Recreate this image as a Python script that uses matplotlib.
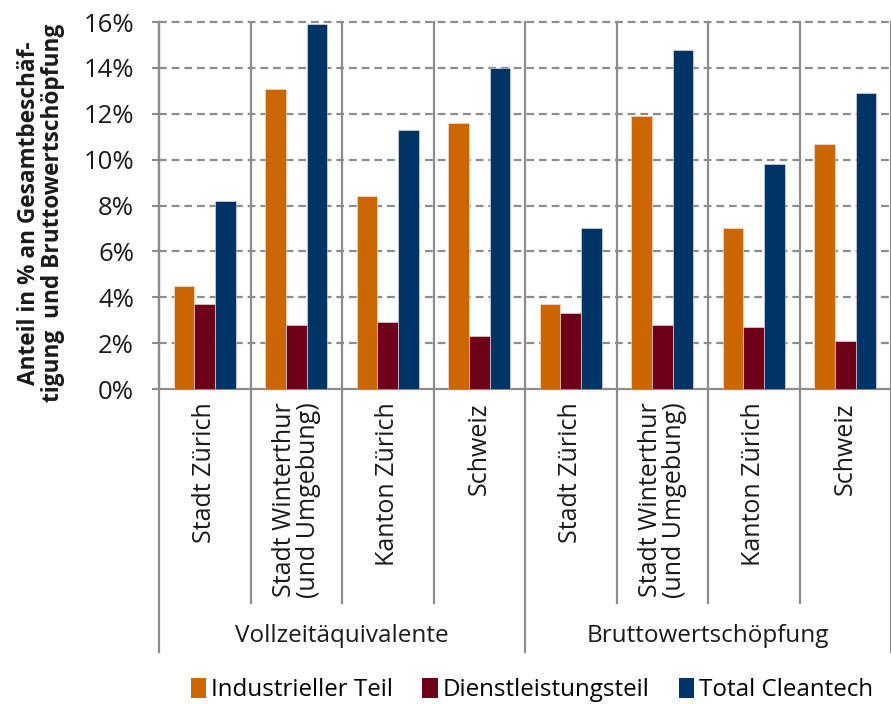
import matplotlib
matplotlib.use("Agg")
import matplotlib.pyplot as plt
from matplotlib.patches import Patch
from matplotlib.lines import Line2D
import matplotlib.transforms as mtransforms
import numpy as np

# Data (share in % of total employment / gross value added)
regions = ["Stadt Zürich", "Stadt Winterthur\n(und Umgebung)", "Kanton Zürich", "Schweiz",
           "Stadt Zürich", "Stadt Winterthur\n(und Umgebung)", "Kanton Zürich", "Schweiz"]
measures = ["Vollzeitäquivalente", "Bruttowertschöpfung"]
series_names = ["Industrieller Teil", "Dienstleistungsteil", "Total Cleantech"]
industriell = [4.5, 13.1, 8.4, 11.6, 3.7, 11.9, 7.0, 10.7]
dienstleistung = [3.7, 2.8, 2.9, 2.3, 3.3, 2.8, 2.7, 2.1]
total = [8.2, 15.9, 11.3, 14.0, 7.0, 14.8, 9.8, 12.9]
y_ticks = [0, 2, 4, 6, 8, 10, 12, 14, 16]

colors = ["#CC6600", "#6E0019", "#003366"]
grid_gray = "#8C8C8C"
text_color = "#1a1a1a"

main_font = ["Open Sans", "DejaVu Sans"]
plt.rcParams["font.family"] = main_font

W, H = 891, 704
fig = plt.figure(figsize=(W / 100, H / 100), dpi=100)
ax = fig.add_axes([159 / W, 1 - 389 / H, (891 - 159) / W, (389 - 22) / H])

x = np.arange(len(regions))
bw = 0.225
for i, (vals, name) in enumerate(zip([industriell, dienstleistung, total], series_names)):
    ax.bar(x + (i - 1) * bw, vals, width=bw, color=colors[i], label=name,
           edgecolor="#f3e6dc", linewidth=0.4, zorder=3)

ax.set_xlim(-0.5, len(regions) - 0.5)
ax.set_ylim(0, 16)
ax.set_yticks(y_ticks)
ax.set_yticklabels([f"{v}%" for v in y_ticks], fontsize=18.5, color=text_color)
ax.tick_params(axis="y", length=5, width=1.5, color=grid_gray, pad=13)
ax.set_xticks([])

# dashed horizontal grid
for v in y_ticks[1:]:
    ax.axhline(v, color=grid_gray, linewidth=1.6, linestyle=(0, (3.5, 2.2)), zorder=1,
               clip_on=False)

for side in ["top", "right"]:
    ax.spines[side].set_visible(False)
ax.spines["left"].set_color(grid_gray)
ax.spines["left"].set_linewidth(1.6)
ax.spines["bottom"].set_color(grid_gray)
ax.spines["bottom"].set_linewidth(1.6)

# vertical separators between categories, extending into the label area
trans = mtransforms.blended_transform_factory(ax.transData, ax.transAxes)
minor_bottom = (389 - 603) / (389 - 22)
major_bottom = (389 - 652) / (389 - 22)
for k in range(len(regions) + 1):
    xs = k - 0.5
    major = k % 4 == 0
    ybot = major_bottom if major else minor_bottom
    ax.add_line(Line2D([xs, xs], [ybot, 1.0], transform=trans, color=grid_gray,
                       linewidth=1.6, clip_on=False, zorder=2))

# category labels (rotated)
for xi, lab in zip(x, regions):
    ax.text(xi, -0.036, lab, transform=trans, rotation=90, ha="center", va="top",
            multialignment="right", fontsize=18, color=text_color, linespacing=0.95)

# measure labels
for j, m in enumerate(measures):
    ax.text(j * 4 + 1.5, -0.673, m, transform=trans, ha="center", va="center",
            fontsize=17.5, color=text_color)

# y-axis title
fig.text(41 / W, 1 - 213 / H, "Anteil in % an Gesamtbeschäf-\ntigung  und Bruttowertschöpfung",
         rotation=90, ha="center", va="center", fontsize=16.3, fontweight="bold",
         multialignment="center", linespacing=0.98, color=text_color)

# legend
handles = [Patch(facecolor=c, edgecolor="none") for c in colors]
fig.legend(handles, series_names, loc="center", bbox_to_anchor=(532 / W, 1 - 690 / H),
           ncol=3, frameon=False, handlelength=0.65, handleheight=0.9, handletextpad=0.2,
           columnspacing=1.2, prop={"size": 17.4})

fig.savefig("out.png", dpi=100)
